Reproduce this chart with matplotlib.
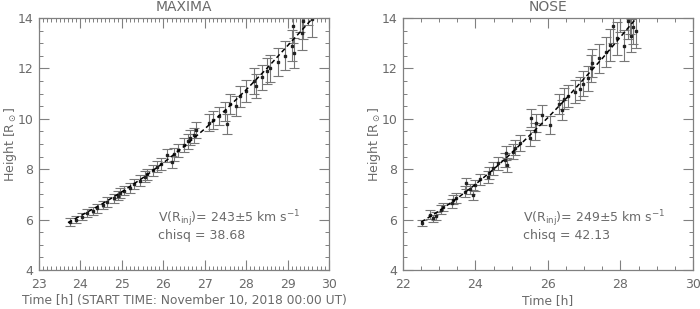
import numpy as np
import matplotlib
matplotlib.use('Agg')
import matplotlib.pyplot as plt
from matplotlib.ticker import MultipleLocator

# MAXIMA tracking (left)
maxima_t = [23.75, 23.9, 24.05, 24.15, 24.3, 24.4, 24.55, 24.65, 24.8, 24.9,
            24.95, 25.05, 25.2, 25.3, 25.45, 25.55, 25.6, 25.75, 25.85, 25.95,
            26.1, 26.2, 26.25, 26.35, 26.5, 26.6, 26.65, 26.75, 26.8, 27.1,
            27.2, 27.35, 27.5, 27.55, 27.6, 27.75, 27.85, 28.0, 28.2, 28.25,
            28.38, 28.5, 28.58, 28.77, 28.94, 29.1, 29.12, 29.15, 29.35, 29.38,
            29.6, 29.3, 29.5]
maxima_h = [5.9, 6.0, 6.12, 6.25, 6.35, 6.45, 6.58, 6.7, 6.85, 6.95,
            7.05, 7.15, 7.25, 7.4, 7.55, 7.7, 7.8, 7.95, 8.1, 8.2,
            8.55, 8.3, 8.6, 8.75, 8.95, 9.1, 9.25, 9.35, 9.55, 9.85,
            9.95, 10.1, 10.3, 9.8, 10.6, 10.5, 10.9, 11.1, 11.5, 11.3,
            11.65, 11.9, 12.0, 12.25, 12.5, 12.9, 13.7, 12.6, 13.4, 13.9,
            13.95, 14.2, 14.5]
maxima_err = [0.15, 0.15, 0.15, 0.16, 0.16, 0.17, 0.17, 0.18, 0.18, 0.18,
              0.19, 0.19, 0.2, 0.2, 0.21, 0.21, 0.22, 0.22, 0.23, 0.23,
              0.25, 0.24, 0.26, 0.27, 0.28, 0.29, 0.3, 0.3, 0.32, 0.34,
              0.35, 0.36, 0.38, 0.4, 0.4, 0.4, 0.42, 0.44, 0.5, 0.46,
              0.5, 0.52, 0.52, 0.55, 0.57, 0.62, 0.7, 0.6, 0.66, 0.72,
              0.72, 0.75, 0.78]
maxima_fit_t = [23.7, 24, 24.5, 25, 25.5, 26, 26.5, 27, 27.5, 28, 28.5, 29, 29.5, 29.8]
maxima_fit_h = [5.88, 6.15, 6.6, 7.1, 7.65, 8.25, 8.9, 9.6, 10.35, 11.15, 12.0, 12.9, 13.8, 14.35]

# NOSE tracking (right)
nose_t = [22.52, 22.74, 22.84, 22.91, 23.04, 23.1, 23.34, 23.39, 23.45, 23.71,
          23.74, 23.85, 23.94, 23.99, 24.12, 24.35, 24.38, 24.49, 24.63, 24.81,
          24.83, 24.86, 25.03, 25.1, 25.23, 25.5, 25.52, 25.64, 25.66, 25.83,
          26.06, 26.3, 26.39, 26.44, 26.55, 26.74, 26.88, 26.97, 27.1, 27.2,
          27.22, 27.4, 27.6, 27.7, 27.8, 27.9, 28.1, 28.2, 28.3, 28.35,
          28.44, 28.0, 28.25]
nose_h = [5.88, 6.2, 6.05, 6.14, 6.4, 6.5, 6.65, 6.78, 6.85, 7.1,
          7.44, 7.2, 6.97, 7.37, 7.6, 7.7, 7.84, 8.04, 8.23, 8.37,
          8.64, 8.17, 8.7, 8.85, 9.03, 9.24, 10.03, 9.5, 9.83, 10.15,
          9.75, 10.6, 10.35, 10.8, 10.9, 11.08, 11.2, 11.4, 11.6, 12.0,
          12.2, 12.4, 12.66, 12.93, 13.7, 13.2, 12.9, 13.9, 13.3, 13.65,
          13.5, 14.2, 14.1]
nose_err = [0.12, 0.18, 0.15, 0.15, 0.17, 0.17, 0.18, 0.18, 0.19, 0.22,
            0.22, 0.2, 0.2, 0.22, 0.22, 0.24, 0.24, 0.25, 0.26, 0.27,
            0.28, 0.27, 0.3, 0.3, 0.32, 0.33, 0.36, 0.34, 0.36, 0.38,
            0.36, 0.4, 0.4, 0.42, 0.44, 0.45, 0.46, 0.48, 0.5, 0.55,
            0.56, 0.58, 0.6, 0.62, 0.7, 0.65, 0.62, 0.72, 0.66, 0.7,
            0.68, 0.75, 0.74]
nose_fit_t = [22.5, 23, 23.5, 24, 24.5, 25, 25.5, 26, 26.5, 27, 27.5, 28, 28.5, 28.7]
nose_fit_h = [5.9, 6.35, 6.85, 7.4, 8.0, 8.65, 9.35, 10.05, 10.8, 11.6, 12.4, 13.25, 14.1, 14.45]

GRAY = '#808080'
TXT = '#6a6a6a'

fig = plt.figure(figsize=(7, 3.09), dpi=100)
ax1 = fig.add_axes([0.0557, 0.1262, 0.4143, 0.8155])
ax2 = fig.add_axes([0.5757, 0.1262, 0.4143, 0.8155])

def draw(ax, t, h, err, ft, fh, title, xlim, xmaj, xmin, xlabel, vtext, chisq, tx):
    ax.errorbar(t, h, yerr=err, fmt='none', ecolor='#777777', elinewidth=0.8,
                capsize=3.5, capthick=0.8)
    ax.plot(t, h, 's', color='#222222', ms=1.8)
    ax.plot(ft, fh, color='black', lw=1.1, dashes=(3, 2))
    ax.set_xlim(*xlim)
    ax.set_ylim(4, 14)
    ax.xaxis.set_major_locator(MultipleLocator(xmaj))
    ax.xaxis.set_minor_locator(MultipleLocator(xmin))
    ax.yaxis.set_major_locator(MultipleLocator(2))
    ax.yaxis.set_minor_locator(MultipleLocator(0.5))
    ax.tick_params(which='both', direction='in', top=True, right=True,
                   color=GRAY, labelcolor=TXT, labelsize=9)
    ax.tick_params(axis='x', pad=6)
    ax.tick_params(axis='y', pad=4)
    ax.tick_params(which='major', length=7, width=0.8)
    ax.tick_params(which='minor', length=3, width=0.7)
    for s in ax.spines.values():
        s.set_color(GRAY)
        s.set_linewidth(0.9)
    ax.set_title(title, color=TXT, fontsize=10, pad=5)
    ax.set_xlabel(xlabel, color=TXT, fontsize=8.8, labelpad=2)
    ax.set_ylabel(r'Height [R$_\odot$]', color=TXT, fontsize=9)
    ax.yaxis.set_label_coords(-0.07, 0.5)
    ax.text(tx, 6.05, vtext, color=TXT, fontsize=9, va='center')
    ax.text(tx, 5.38, 'chisq = ' + chisq, color=TXT, fontsize=9, va='center')

draw(ax1, maxima_t, maxima_h, maxima_err, maxima_fit_t, maxima_fit_h, 'MAXIMA',
     (23, 30), 1, 0.1, 'Time [h] (START TIME: November 10, 2018 00:00 UT)',
     r'V(R$_{\rm inj}$)= 243±5 km s$^{-1}$', '38.68', 25.87)
draw(ax2, nose_t, nose_h, nose_err, nose_fit_t, nose_fit_h, 'NOSE',
     (22, 30), 2, 0.5, 'Time [h]',
     r'V(R$_{\rm inj}$)= 249±5 km s$^{-1}$', '42.13', 25.3)

fig.savefig('out.png', dpi=100)
